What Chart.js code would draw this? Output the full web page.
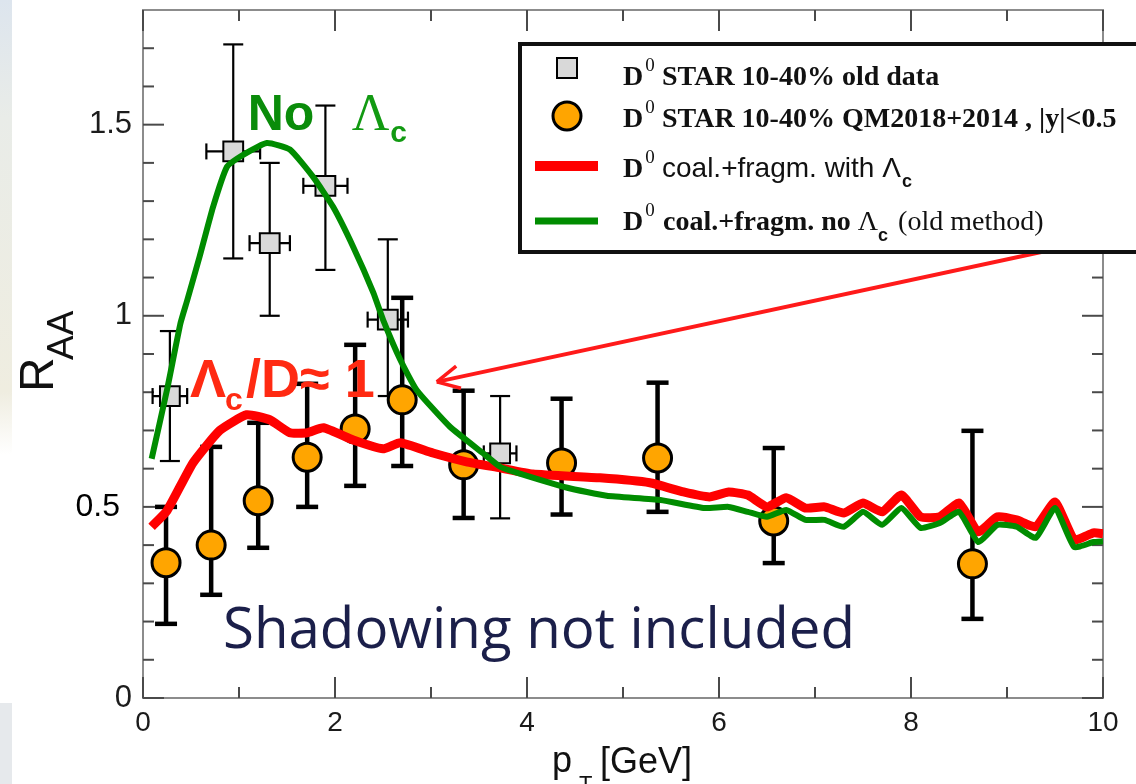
<!DOCTYPE html>
<html>
<head>
<meta charset="utf-8">
<script src="https://cdn.jsdelivr.net/npm/chart.js@4.4.0/dist/chart.umd.min.js"></script>
<style>
  html, body { margin: 0; padding: 0; background: #fff; }
  canvas { display: block; }
</style>
</head>
<body>
<canvas id="raaChart" width="1136" height="784"></canvas>
<script>
// D0 STAR 10-40% old data (grey squares)
const oldPt    = [0.28, 0.94, 1.32, 1.90, 2.55, 3.72];
const oldRaa   = [0.79, 1.43, 1.19, 1.34, 0.99, 0.64];
const oldLow   = [0.62, 1.15, 1.00, 1.12, 0.79, 0.47];
const oldHigh  = [0.96, 1.71, 1.40, 1.55, 1.20, 0.79];
const oldPtErr = [0.18, 0.28, 0.21, 0.23, 0.21, 0.17];

// D0 STAR 10-40% QM2018+2014 (orange circles)
const newPt   = [0.24, 0.71, 1.20, 1.71, 2.21, 2.70, 3.34, 4.36, 5.36, 6.57, 8.64];
const newRaa  = [0.354, 0.40, 0.516, 0.63, 0.704, 0.78, 0.61, 0.615, 0.628, 0.463, 0.351];
const newLow  = [0.194, 0.27, 0.393, 0.50, 0.555, 0.607, 0.471, 0.48, 0.487, 0.353, 0.207];
const newHigh = [0.50, 0.657, 0.72, 0.822, 0.924, 1.047, 0.804, 0.783, 0.825, 0.654, 0.699];

// coal.+fragm. with Lambda_c (red)
const withLcPt = [0.09, 0.25, 0.52, 0.80, 1.08, 1.32, 1.53, 1.71, 1.88, 2.19,
                  2.50, 2.68, 3.02, 3.37, 3.72, 4.06, 4.76, 5.28, 5.63, 5.90,
                  6.1, 6.3, 6.5, 6.7, 6.9, 7.1, 7.3, 7.5, 7.7, 7.9,
                  8.1, 8.3, 8.5, 8.7, 8.9, 9.1, 9.3, 9.5, 9.7, 9.9, 10.0];
const withLcRaa = [0.448, 0.49, 0.615, 0.70, 0.741, 0.728, 0.694, 0.694, 0.707, 0.675,
                   0.652, 0.668, 0.641, 0.618, 0.602, 0.586, 0.576, 0.563, 0.539, 0.526,
                   0.539, 0.531, 0.50, 0.524, 0.497, 0.50, 0.484, 0.510, 0.487, 0.531,
                   0.474, 0.474, 0.51, 0.435, 0.474, 0.466, 0.448, 0.513, 0.414, 0.432, 0.43];

// coal.+fragm. no Lambda_c, old method (green)
const noLcPt = [0.09, 0.25, 0.39, 0.46, 0.59, 0.73, 0.875, 1.01, 1.29, 1.53,
                1.77, 1.98, 2.19, 2.40, 2.50, 2.68, 2.85, 3.20, 3.54, 3.72,
                3.90, 4.42, 4.83, 5.39, 5.85,
                6.1, 6.3, 6.5, 6.7, 6.9, 7.1, 7.3, 7.5, 7.7, 7.9,
                8.1, 8.3, 8.5, 8.7, 8.9, 9.1, 9.3, 9.5, 9.7, 9.9, 10.0];
const noLcRaa = [0.626, 0.806, 0.98, 1.04, 1.155, 1.285, 1.39, 1.416, 1.452, 1.435,
                 1.364, 1.285, 1.18, 1.06, 0.99, 0.885, 0.806, 0.709, 0.641, 0.605,
                 0.589, 0.55, 0.529, 0.518, 0.497,
                 0.50, 0.487, 0.474, 0.492, 0.466, 0.466, 0.448, 0.487, 0.453, 0.497,
                 0.445, 0.458, 0.487, 0.408, 0.453, 0.448, 0.419, 0.497, 0.395, 0.408, 0.41];

// axis ticks
const xMajor = [0, 2, 4, 6, 8, 10];
const xMinor = [1, 3, 5, 7, 9];
const yMajor = [0, 0.5, 1, 1.5];
const yMinor = [0.1, 0.2, 0.3, 0.4, 0.6, 0.7, 0.8, 0.9, 1.1, 1.2, 1.3, 1.4, 1.6, 1.7];
const yLabels = ['0', '0.5', '1', '1.5'];

const toPoints = function (xs, ys) {
  return xs.map((x, i) => ({ x: x, y: ys[i] }));
};

const SANS = '"Liberation Sans", Arial, sans-serif';
const SERIF = '"Liberation Serif", "Times New Roman", serif';

function txt(c, s, x, y, font, color) {
  c.font = font;
  c.fillStyle = color || '#111';
  c.fillText(s, x, y);
  return x + c.measureText(s).width;
}

function line(c, x1, y1, x2, y2) {
  c.beginPath();
  c.moveTo(x1, y1);
  c.lineTo(x2, y2);
  c.stroke();
}

// error bars drawn just before their own markers
const errorBars = {
  id: 'errorBars',
  beforeDatasetDraw(chart, args) {
    const c = chart.ctx;
    const xs = chart.scales.x, ys = chart.scales.y;
    c.save();
    c.strokeStyle = '#000';
    c.lineCap = 'butt';
    if (args.index === 0) {
      c.lineWidth = 2.2;
      for (let i = 0; i < oldPt.length; i++) {
        const px = xs.getPixelForValue(oldPt[i]);
        const py = ys.getPixelForValue(oldRaa[i]);
        const lo = ys.getPixelForValue(oldLow[i]);
        const hi = ys.getPixelForValue(oldHigh[i]);
        line(c, px, lo, px, hi);
        line(c, px - 10, lo, px + 10, lo);
        line(c, px - 10, hi, px + 10, hi);
        const l = xs.getPixelForValue(oldPt[i] - oldPtErr[i]);
        const r = xs.getPixelForValue(oldPt[i] + oldPtErr[i]);
        line(c, l, py, r, py);
        line(c, l, py - 8, l, py + 8);
        line(c, r, py - 8, r, py + 8);
      }
    } else if (args.index === 1) {
      c.lineWidth = 4.5;
      for (let i = 0; i < newPt.length; i++) {
        const px = xs.getPixelForValue(newPt[i]);
        const lo = ys.getPixelForValue(newLow[i]);
        const hi = ys.getPixelForValue(newHigh[i]);
        line(c, px, lo, px, hi);
        line(c, px - 11, lo, px + 11, lo);
        line(c, px - 11, hi, px + 11, hi);
      }
    }
    c.restore();
  }
};

// frame, inward ticks, labels, annotations and the legend box
const decorations = {
  id: 'decorations',
  beforeDraw(chart) {
    const c = chart.ctx;
    c.save();
    const g = c.createLinearGradient(0, 0, 0, 784);
    g.addColorStop(0, '#dde5ee');
    g.addColorStop(0.15, '#e9ece8');
    g.addColorStop(0.5, '#efede0');
    g.addColorStop(0.58, '#ffffff');
    c.fillStyle = g;
    c.fillRect(0, 0, 12, 460);
    c.fillStyle = '#e6e9ec';
    c.fillRect(0, 703, 12, 81);
    c.restore();
  },
  beforeDatasetsDraw(chart) {
    const c = chart.ctx;
    const a = chart.chartArea;
    const xs = chart.scales.x, ys = chart.scales.y;
    c.save();
    c.strokeStyle = '#8c8c8c';
    c.lineWidth = 2;
    c.strokeRect(a.left, a.top, a.right - a.left, a.bottom - a.top);
    c.strokeStyle = '#4a4a4a';
    const tx = function (v, len) {
      const p = xs.getPixelForValue(v);
      line(c, p, a.bottom, p, a.bottom - len);
      line(c, p, a.top, p, a.top + len);
    };
    const ty = function (v, len) {
      const p = ys.getPixelForValue(v);
      line(c, a.left, p, a.left + len, p);
      line(c, a.right, p, a.right - len, p);
    };
    xMajor.forEach(v => tx(v, 21));
    xMinor.forEach(v => tx(v, 11));
    yMajor.forEach(v => ty(v, 21));
    yMinor.forEach(v => ty(v, 11));

    // y tick labels, placed by the y scale
    c.textAlign = 'right';
    c.textBaseline = 'middle';
    yMajor.forEach((v, i) => {
      const p = ys.getPixelForValue(v);
      if (yLabels[i] === '0.5') {
        txt(c, yLabels[i], a.left - 23, p, '32px ' + SANS, '#000');
      } else {
        txt(c, yLabels[i], a.left - 11, p, '31px ' + SANS, '#1c1c1c');
      }
    });
    c.restore();
  },
  afterDatasetsDraw(chart) {
    const c = chart.ctx;
    const xs = chart.scales.x, ys = chart.scales.y;
    c.save();
    c.textBaseline = 'alphabetic';

    // "No Λc"
    let x = xs.getPixelForValue(1.09);
    let y = ys.getPixelForValue(1.487);
    txt(c, 'No', x, y, 'bold 50px ' + SANS, '#0a8c0a');
    x = txt(c, 'Λ', x + 104, y, '52px ' + SERIF, '#129a12');
    txt(c, 'c', x + 1, y + 12, 'bold 30px ' + SANS, '#129a12');

    // "Λc/D≈ 1"
    x = xs.getPixelForValue(0.49);
    y = ys.getPixelForValue(0.788);
    const red = '#ff2a12';
    x = txt(c, 'Λ', x, y, 'bold 54px ' + SANS, red);
    txt(c, 'c', x - 1, y + 13, 'bold 32px ' + SANS, red);
    txt(c, '/D≈ 1', x + 20, y, 'bold 54px ' + SANS, red);

    // arrow pointing at the curves
    const tipX = xs.getPixelForValue(3.06), tipY = ys.getPixelForValue(0.827);
    const endX = xs.getPixelForValue(10.34), endY = ys.getPixelForValue(1.22);
    c.strokeStyle = '#ff1a1a';
    c.lineWidth = 4;
    line(c, endX, endY, tipX, tipY);
    const ang = Math.atan2(endY - tipY, endX - tipX);
    c.lineWidth = 3.5;
    [-0.47, 0.47].forEach(d => {
      line(c, tipX, tipY, tipX + 25 * Math.cos(ang + d), tipY + 25 * Math.sin(ang + d));
    });

    // "Shadowing not included"
    x = xs.getPixelForValue(0.833);
    y = ys.getPixelForValue(0.131);
    const s = 'Shadowing not included';
    c.font = '56px "Open Sans", sans-serif';
    const w = c.measureText(s).width;
    c.translate(x, y);
    c.scale(632 / w, 1);
    c.fillStyle = '#1b1f4a';
    c.fillText(s, 0, 0);
    c.restore();
  },
  afterDraw(chart) {
    const c = chart.ctx;
    c.save();
    c.textBaseline = 'alphabetic';

    // axis titles
    c.save();
    c.translate(53, 392);
    c.rotate(-Math.PI / 2);
    txt(c, 'R', 0, 0, '48px ' + SANS, '#111');
    c.restore();
    c.save();
    c.translate(73, 360);
    c.rotate(-Math.PI / 2);
    txt(c, 'AA', 0, 0, '37px ' + SANS, '#111');
    c.restore();
    txt(c, 'p', 552, 772, '36px ' + SANS, '#111');
    txt(c, 'T', 579, 791, '22px ' + SANS, '#111');
    txt(c, '[GeV]', 600, 773, '36px ' + SANS, '#111');

    // legend box
    c.fillStyle = '#fff';
    c.fillRect(518, 42, 640, 212);
    c.strokeStyle = '#111';
    c.lineWidth = 4;
    c.strokeRect(520, 44, 640, 208);

    c.lineWidth = 2;
    c.fillStyle = '#d9d9d9';
    c.strokeStyle = '#000';
    c.fillRect(557, 58, 20, 20);
    c.strokeRect(557, 58, 20, 20);

    c.beginPath();
    c.arc(567, 116, 14, 0, Math.PI * 2);
    c.fillStyle = '#ffa500';
    c.fill();
    c.lineWidth = 3;
    c.stroke();

    c.strokeStyle = '#ff0000';
    c.lineWidth = 10;
    line(c, 535, 166, 598, 166);
    c.strokeStyle = '#008c00';
    c.lineWidth = 7;
    line(c, 535, 221, 598, 221);

    const bold = 'bold 28px ' + SERIF;
    const sup = '19px ' + SERIF;
    const rows = [85, 127, 177, 230];
    rows.forEach(b => {
      const xe = txt(c, 'D', 623, b, bold);
      txt(c, '0', xe + 2, b - 14, sup);
    });
    txt(c, 'STAR 10-40% old data', 662, rows[0], bold);
    txt(c, 'STAR 10-40% QM2018+2014 , |y|<0.5', 662, rows[1], bold);
    let x = txt(c, 'coal.+fragm. with Λ', 662, rows[2], '28px ' + SANS);
    txt(c, 'c', x + 1, rows[2] + 10, 'bold 18px ' + SANS);
    x = txt(c, 'coal.+fragm. no ', 663, rows[3], bold);
    x = txt(c, 'Λ', x, rows[3], '28px ' + SERIF);
    txt(c, 'c', x, rows[3] + 11, 'bold 18px ' + SANS);
    txt(c, '(old method)', x + 20, rows[3], '28px ' + SERIF);
    c.restore();
  }
};

const ctx = document.getElementById('raaChart').getContext('2d');

const raaChart = new Chart(ctx, {
  type: 'scatter',
  data: {
    datasets: [
      {
        label: 'D0 STAR 10-40% old data',
        data: toPoints(oldPt, oldRaa),
        pointStyle: 'rect',
        pointRadius: 14,
        backgroundColor: '#d9d9d9',
        borderColor: '#000',
        borderWidth: 2,
        order: 4
      },
      {
        label: 'D0 STAR 10-40% QM2018+2014 , |y|<0.5',
        data: toPoints(newPt, newRaa),
        pointStyle: 'circle',
        pointRadius: 14,
        backgroundColor: '#ffa500',
        borderColor: '#000',
        borderWidth: 3,
        order: 3
      },
      {
        type: 'line',
        label: 'D0 coal.+fragm. with Lc',
        data: toPoints(withLcPt, withLcRaa),
        borderColor: '#ff0000',
        borderWidth: 9,
        pointRadius: 0,
        tension: 0.15,
        borderJoinStyle: 'round',
        fill: false,
        order: 2
      },
      {
        type: 'line',
        label: 'D0 coal.+fragm. no Lc (old method)',
        data: toPoints(noLcPt, noLcRaa),
        borderColor: '#008c00',
        borderWidth: 6,
        pointRadius: 0,
        tension: 0.15,
        borderJoinStyle: 'round',
        fill: false,
        order: 1
      }
    ]
  },
  options: {
    responsive: false,
    animation: false,
    layout: { autoPadding: false, padding: { top: 10, right: 33, left: 0, bottom: 0 } },
    plugins: {
      legend: { display: false },
      tooltip: { enabled: false }
    },
    scales: {
      x: {
        type: 'linear',
        min: 0,
        max: 10,
        grid: { display: false, drawTicks: false },
        border: { display: false },
        ticks: {
          stepSize: 2,
          padding: 8,
          color: '#1a1a1a',
          font: { family: 'Liberation Sans', size: 28 }
        },
        afterFit: function (scale) {
          scale.height = 86;
        }
      },
      y: {
        min: 0,
        max: 1.8,
        grid: { display: false, drawTicks: false },
        border: { display: false },
        ticks: { display: false, stepSize: 0.5 },
        afterFit: function (scale) {
          scale.width = 143;
        }
      }
    }
  },
  plugins: [errorBars, decorations]
});
</script>
</body>
</html>
